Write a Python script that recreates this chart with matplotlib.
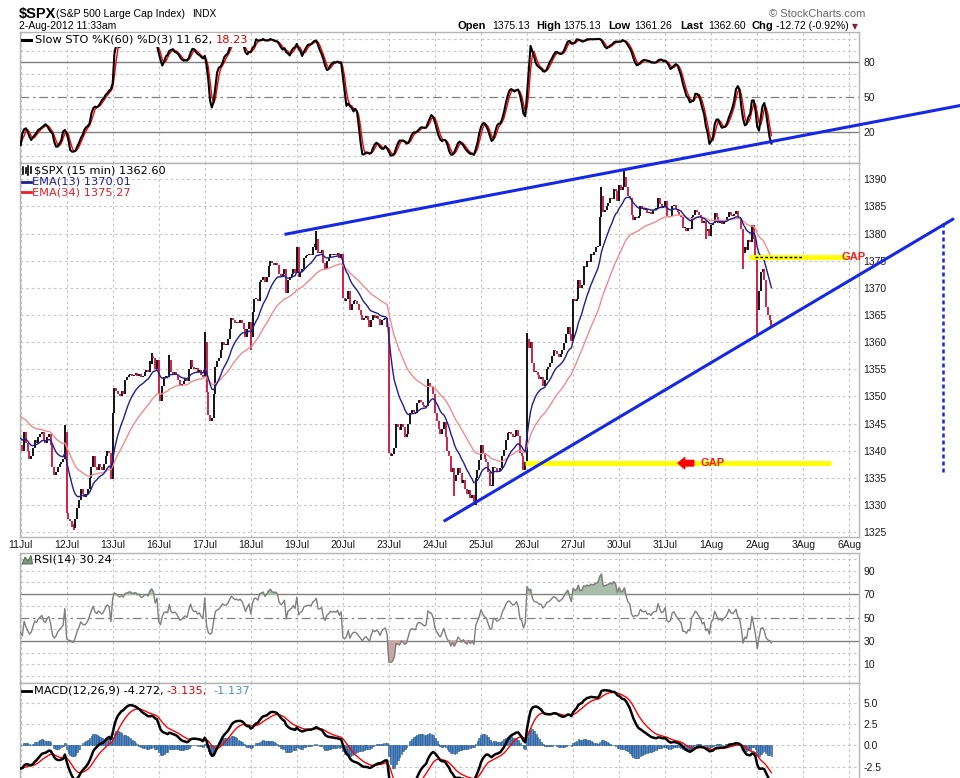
import numpy as np
import matplotlib
matplotlib.use("Agg")
import matplotlib.pyplot as plt
from matplotlib.lines import Line2D
from matplotlib.patches import Polygon

W, H, DPI = 960, 778, 100
L, R = 20, 859  # plot area left/right edge (pixels)

day_labels = ['11Jul', '12Jul', '13Jul', '16Jul', '17Jul', '18Jul', '19Jul', '20Jul', '23Jul',
              '24Jul', '25Jul', '26Jul', '27Jul', '30Jul', '31Jul', '1Aug', '2Aug', '3Aug', '6Aug']

# 15 min closes, one list per session (26 bars per day)
jul11 = [1341.0, 1340.0, 1343.5, 1341.5, 1340.0, 1338.5, 1339.0, 1340.5, 1342.0, 1341.5, 1342.5, 1343.0, 1343.5,
         1342.0, 1341.5, 1342.5, 1343.0, 1341.0, 1337.0, 1335.5, 1336.0, 1337.0, 1337.5, 1338.0, 1338.5, 1343.5]
jul12 = [1328.5, 1327.5, 1327.0, 1326.0, 1325.8, 1327.5, 1329.5, 1331.0, 1333.0, 1332.0, 1331.5, 1332.0, 1333.0,
         1335.0, 1337.0, 1339.0, 1337.0, 1336.5, 1337.5, 1337.0, 1336.5, 1337.5, 1339.0, 1340.0, 1339.5, 1334.8]
jul13 = [1347.0, 1351.5, 1351.0, 1350.5, 1350.0, 1351.0, 1350.5, 1353.0, 1353.5, 1354.0, 1354.2, 1353.8, 1354.0,
         1354.3, 1353.8, 1354.2, 1353.5, 1353.8, 1354.5, 1354.8, 1354.5, 1356.5, 1357.5, 1357.0, 1355.0, 1356.8]
jul16 = [1350.5, 1349.2, 1352.0, 1353.5, 1353.8, 1353.5, 1356.8, 1354.5, 1354.2, 1354.5, 1354.0, 1353.0, 1352.0,
         1352.3, 1352.8, 1353.2, 1352.8, 1355.0, 1356.8, 1355.5, 1355.0, 1355.2, 1354.5, 1354.8, 1354.0, 1353.6]
jul17 = [1360.0, 1350.8, 1346.5, 1345.5, 1346.0, 1350.5, 1355.5, 1356.5, 1357.0, 1358.5, 1360.0, 1359.5, 1359.5,
         1360.5, 1362.5, 1364.5, 1364.0, 1363.5, 1363.8, 1363.5, 1364.0, 1363.5, 1362.5, 1361.0, 1362.5, 1363.7]
jul18 = [1361.0, 1365.5, 1368.0, 1368.0, 1367.5, 1371.0, 1371.5, 1372.0, 1371.0, 1372.0, 1374.0, 1375.0, 1374.5,
         1374.3, 1374.5, 1374.2, 1372.5, 1372.0, 1372.5, 1373.5, 1369.0, 1371.5, 1372.0, 1372.5, 1373.5, 1372.8]
jul19 = [1377.5, 1372.0, 1373.0, 1373.5, 1375.5, 1375.8, 1376.0, 1376.2, 1376.0, 1377.5, 1378.0, 1379.0, 1376.5,
         1376.5, 1377.0, 1374.5, 1373.5, 1375.0, 1375.5, 1376.2, 1376.0, 1376.2, 1376.0, 1376.5, 1375.5, 1376.3]
jul20 = [1368.2, 1367.5, 1368.0, 1369.5, 1366.0, 1367.0, 1367.5, 1367.5, 1367.0, 1366.0, 1365.0, 1364.0, 1364.5,
         1364.8, 1364.0, 1362.8, 1364.0, 1365.0, 1364.5, 1364.8, 1364.3, 1363.2, 1364.0, 1364.3, 1364.5, 1362.7]
jul23 = [1339.5, 1339.0, 1339.3, 1340.5, 1345.0, 1344.3, 1343.8, 1345.0, 1344.3, 1342.5, 1343.0, 1345.0, 1347.0,
         1347.5, 1347.2, 1347.0, 1348.8, 1349.3, 1349.0, 1348.5, 1348.0, 1348.3, 1352.5, 1352.0, 1351.8, 1350.5]
jul24 = [1347.0, 1345.5, 1344.0, 1343.0, 1344.0, 1345.2, 1342.5, 1340.0, 1339.0, 1336.0, 1336.8, 1334.5, 1335.5,
         1336.8, 1335.8, 1334.0, 1334.6, 1333.0, 1332.0, 1332.8, 1331.2, 1331.8, 1330.0, 1335.0, 1336.5, 1338.3]
jul25 = [1341.0, 1339.5, 1338.5, 1338.0, 1336.0, 1333.5, 1333.5, 1337.0, 1336.8, 1336.0, 1336.3, 1336.8, 1339.0,
         1340.2, 1342.0, 1343.2, 1343.5, 1343.0, 1342.5, 1342.8, 1343.8, 1342.8, 1339.5, 1339.0, 1336.5, 1338.0]
jul26 = [1360.5, 1359.0, 1360.0, 1356.2, 1354.5, 1354.5, 1354.0, 1353.3, 1353.5, 1352.0, 1353.0, 1355.0, 1355.5,
         1356.2, 1357.4, 1358.5, 1358.3, 1357.8, 1357.2, 1357.8, 1358.5, 1359.8, 1361.5, 1362.8, 1361.5, 1360.2]
jul27 = [1368.0, 1367.5, 1368.0, 1371.5, 1370.0, 1370.5, 1374.0, 1373.8, 1375.0, 1374.8, 1376.2, 1376.0, 1376.6,
         1377.5, 1377.8, 1383.0, 1387.0, 1384.0, 1384.3, 1385.0, 1385.6, 1386.5, 1386.3, 1388.3, 1387.8, 1386.0]
jul30 = [1389.0, 1388.0, 1388.5, 1390.5, 1388.5, 1387.0, 1386.5, 1383.5, 1382.5, 1383.0, 1382.8, 1383.3, 1385.0,
         1384.5, 1384.3, 1384.6, 1383.8, 1384.0, 1383.6, 1384.3, 1384.5, 1384.6, 1386.5, 1385.5, 1384.8, 1385.1]
jul31 = [1386.0, 1383.3, 1383.0, 1383.3, 1385.0, 1385.2, 1384.5, 1384.0, 1383.5, 1383.0, 1381.0, 1381.0, 1380.5,
         1381.0, 1380.8, 1383.0, 1383.5, 1384.3, 1384.0, 1383.5, 1383.0, 1382.0, 1382.3, 1380.5, 1380.8, 1379.5]
aug01 = [1381.5, 1382.0, 1383.8, 1383.0, 1382.0, 1382.3, 1381.8, 1382.2, 1382.5, 1383.0, 1384.0, 1383.5, 1383.3,
         1383.6, 1384.1, 1383.0, 1382.6, 1380.8, 1376.5, 1377.5, 1377.0, 1378.9, 1378.5, 1381.5, 1379.0, 1375.2]
aug02 = [1366.0, 1369.5, 1373.0, 1373.5, 1371.5, 1366.5, 1365.0, 1364.0, 1362.6]

sessions = [jul11, jul12, jul13, jul16, jul17, jul18, jul19, jul20, jul23,
            jul24, jul25, jul26, jul27, jul30, jul31, aug01, aug02]

# bars with long wicks: (session, bar, low, high)
spikes = [(0, 25, 1338.5, 1344.8), (1, 4, 1325.4, 1326.5), (2, 22, 1356.0, 1358.0),
          (3, 6, 1354.5, 1357.6), (4, 0, 1353.6, 1361.9), (5, 0, 1358.5, 1363.7),
          (6, 11, 1377.0, 1380.5), (7, 0, 1368.2, 1376.3), (8, 22, 1348.3, 1353.2),
          (9, 11, 1331.7, 1335.0), (11, 0, 1338.0, 1361.7), (12, 16, 1383.0, 1388.6),
          (13, 3, 1388.5, 1391.7), (14, 23, 1379.0, 1382.3), (15, 18, 1373.5, 1380.8),
          (16, 0, 1361.3, 1375.1)]

# slow %K over the first 60 bars (its window reaches back before the chart)
sto_k_start = [9, 19, 22.6, 23.4, 20.6, 16.3, 13.4, 15.7, 17.7, 19.7, 22, 22.9, 24.3, 25.4, 26.9,
               25.4, 22.6, 20.6, 19, 12, 7.7, 7.7, 10.6, 13.4, 20.6, 22, 19, 13.4, 4.9, 3.4,
               3.4, 4.3, 7.7, 11, 14.9, 17.7, 22, 24.3, 25.4, 27.7, 36.3, 40.6, 42, 41.4, 42.6,
               44.9, 47.7, 49.1, 52, 53.4, 55.7, 56.9, 62, 87.7, 94.9, 93.4, 93.4, 94, 94.6, 96.3]

# indicator levels at the left edge of the chart
first_open = 1340.8
ema13_start, ema34_start = 1342.5, 1346.7
ema12_start, ema26_start, signal_start = 1342.4, 1345.2, -2.65
rsi_gain_start, rsi_loss_start = 0.45, 0.80

# hand drawn annotations (day, price)
upper_trend = ([5.765, 20.38], [1379.9, 1403.55])
lower_trend = ([9.218, 20.245], [1327.13, 1382.63])
target_x, target_prices = 20.04, [1381.9, 1335.9]
gap_low_x, gap_low_price = [10.955, 17.6], 1337.7
gap_high_x, gap_high_price = [15.83, 17.95], 1375.7
gap_high_dots = [15.95, 16.99]

quote = [('Open', 458, '1375.13', 492), ('High', 536, '1375.13', 563), ('Low', 608, '1361.26', 634),
         ('Last', 680, '1362.60', 708), ('Chg', 752, '-12.72 (-0.92%)', 776)]

# ---------------------------------------------------------------- data prep
closes = np.concatenate([np.asarray(s, float) for s in sessions])
xs = np.concatenate([d + np.arange(len(s)) / 26.0 for d, s in enumerate(sessions)])
opens = np.r_[first_open, closes[:-1]]
highs = np.maximum(opens, closes)
lows = np.minimum(opens, closes)
starts = np.cumsum([0] + [len(s) for s in sessions])
for d, j, lo, hi in spikes:
    k = starts[d] + j
    lows[k] = min(lows[k], lo)
    highs[k] = max(highs[k], hi)
highs = np.maximum(highs, lows + 0.2)
n = len(closes)


def ema(values, span, start):
    a = 2.0 / (span + 1)
    out, e = [], start
    for v in values:
        e += a * (v - e)
        out.append(e)
    return np.array(out)


ema13 = ema(closes, 13, ema13_start)
ema34 = ema(closes, 34, ema34_start)

fast = np.empty(n)
for i in range(n):
    lo = lows[max(0, i - 59):i + 1].min()
    hi = highs[max(0, i - 59):i + 1].max()
    fast[i] = 100 * (closes[i] - lo) / (hi - lo) if hi > lo else 50
slow_k = np.array([fast[max(0, i - 2):i + 1].mean() for i in range(n)])
slow_k[:len(sto_k_start)] = sto_k_start
sto_d = np.array([slow_k[max(0, i - 2):i + 1].mean() for i in range(n)])

g, l = rsi_gain_start, rsi_loss_start
rsi = []
for ch in closes - opens:
    g = (g * 13 + max(ch, 0)) / 14
    l = (l * 13 + max(-ch, 0)) / 14
    rsi.append(100 - 100 / (1 + g / l))
rsi = np.array(rsi)

macd = ema(closes, 12, ema12_start) - ema(closes, 26, ema26_start)
signal = ema(macd, 9, signal_start)
hist = macd - signal

# ---------------------------------------------------------------- figure
plt.rcParams['font.family'] = ['Liberation Sans', 'DejaVu Sans']
fig = plt.figure(figsize=(W / DPI, H / DPI), dpi=DPI)

GRID = '#c8c8c8'
LEVEL = '#808080'
X0, X1 = (L - 20.6) / 46.04, (R - 20.6) / 46.04


def panel(top, bottom):
    return fig.add_axes([L / W, 1 - bottom / H, (R - L) / W, (bottom - top) / H])


def style(a, ylim, ticks, labels, dashed=(), solid=(), dashdot=()):
    a.set_xlim(X0, X1)
    a.set_ylim(*ylim)
    a.set_yticks(ticks)
    a.set_yticklabels(labels)
    a.yaxis.tick_right()
    a.tick_params(axis='y', length=0, pad=3, labelsize=7.5, labelcolor='#1a1a1a')
    a.set_xticks(range(len(day_labels)))
    a.tick_params(axis='x', length=0, labelbottom=False)
    for s in a.spines.values():
        s.set_color('#b4b4b4')
        s.set_linewidth(1)
    for d in range(len(day_labels)):
        a.axvline(d, color=GRID, lw=0.8, ls=(0, (2.5, 2.5)), zorder=0)
    for v in dashed:
        a.axhline(v, color=GRID, lw=0.8, ls=(0, (2.5, 2.5)), zorder=0)
    for v in solid:
        a.axhline(v, color=LEVEL, lw=1, zorder=1)
    for v in dashdot:
        a.axhline(v, color=LEVEL, lw=0.9, ls=(0, (7, 3, 2, 3)), zorder=1)


ax_sto = panel(32, 163.3)
ax = panel(163.3, 537)
ax_rsi = panel(552.7, 683.3)
ax_macd = panel(683.3, 790)

style(ax_sto, (-6.6, 106), [20, 50, 80], ['20', '50', '80'],
      dashed=[0, 10, 30, 40, 60, 70, 90, 100], solid=[20, 80], dashdot=[50])
style(ax, (1324.1, 1392.95), list(range(1325, 1391, 5)), [str(v) for v in range(1325, 1391, 5)],
      dashed=list(range(1325, 1391, 5)))
style(ax_rsi, (-6.2, 105.4), [10, 30, 50, 70, 90], ['10', '30', '50', '70', '90'],
      dashed=[0, 10, 20, 40, 60, 80, 90, 100], solid=[30, 70], dashdot=[50])
style(ax_macd, (-5.23, 7.27), [-2.5, 0, 2.5, 5.0], ['-2.5', '0.0', '2.5', '5.0'],
      dashed=[-2.5, 0, 2.5, 5.0])

ax.set_xticklabels(day_labels)
ax.tick_params(axis='x', labelbottom=True, pad=2, labelsize=7.5, labelcolor='#1a1a1a')

# stochastics
ax_sto.plot(xs, sto_d, color='#ff0000', lw=1.0, zorder=3)
ax_sto.plot(xs, slow_k, color='black', lw=1.5, zorder=4)

# price bars + EMAs
cols = np.where(closes >= opens, 'black', '#d0103a')
ax.vlines(xs, lows, highs, colors=cols, lw=1.3, zorder=2)
ax.plot(xs, ema34, color='#f28c8c', lw=1.0, zorder=3)
ax.plot(xs, ema13, color='#1e1e96', lw=1.0, zorder=3)

# annotations
ax.plot(gap_low_x, [gap_low_price] * 2, color='#ffff00', lw=3.5, solid_capstyle='butt', zorder=4)
ax.plot(gap_high_x, [gap_high_price] * 2, color='#ffff00', lw=3.5, solid_capstyle='butt',
        zorder=4, clip_on=False)
ax.plot(gap_high_dots, [gap_high_price] * 2, color='black', lw=1, ls=(0, (2, 1.5)), zorder=5)
ax.plot(*upper_trend, color='#1428e6', lw=2.2, zorder=6, clip_on=False)
ax.plot(*lower_trend, color='#1428e6', lw=2.2, zorder=6, clip_on=False)
ax.plot([target_x, target_x], target_prices, color='#1428e6', lw=1.8, ls=(0, (1.6, 1.2)),
        zorder=6, clip_on=False)
ax.annotate('', xy=(14.28, gap_low_price), xytext=(14.62, gap_low_price),
            arrowprops=dict(arrowstyle='simple,head_length=0.6,head_width=1.0,tail_width=0.5',
                            mutation_scale=8, color='#ff0000', shrinkA=0, shrinkB=0), zorder=6)
ax.text(14.76, gap_low_price, 'GAP', color='#ff1a1a', fontweight='bold', fontsize=8,
        va='center', ha='left', zorder=7)
ax.text(17.84, gap_high_price, 'GAP', color='#ff1a1a', fontweight='bold', fontsize=8,
        va='center', ha='left', zorder=7, clip_on=False)

# RSI
ax_rsi.plot(xs, rsi, color='#7f7f7f', lw=1.0, zorder=3)
ax_rsi.fill_between(xs, rsi, 70, where=rsi > 70, interpolate=True, color='#a9bda9', zorder=2)
ax_rsi.fill_between(xs, rsi, 30, where=rsi < 30, interpolate=True, color='#c9a6a6', zorder=2)

# MACD
ax_macd.bar(xs, hist, width=0.9 / 26, color='#4a88c6', edgecolor='#1f508c', linewidth=0.4, zorder=2)
ax_macd.plot(xs, signal, color='#ff0000', lw=1.0, zorder=3)
ax_macd.plot(xs, macd, color='black', lw=1.8, zorder=4)


# ---------------------------------------------------------------- texts
def ftext(x, y, s, **kw):
    kw.setdefault('va', 'center')
    kw.setdefault('parse_math', False)
    return fig.text(x / W, 1 - y / H, s, **kw)


def fline(xp, yp, **kw):
    fig.add_artist(Line2D([x / W for x in xp], [1 - y / H for y in yp], **kw))


LEG = dict(family='DejaVu Sans', fontsize=8.2)
WHITE = dict(fc='white', ec='none', pad=1.2)

ftext(19, 14, '$SPX', fontsize=10.5, fontweight='bold')
ftext(56, 14, '(S&P 500 Large Cap Index)', fontsize=7.6)
ftext(192, 14, 'INDX', fontsize=7.3)
ftext(19, 26, '2-Aug-2012 11:33am', fontsize=7.5)
ftext(769, 14, '\u00a9 StockCharts.com', fontsize=8, color='#666666')
for name, xn, val, xv in quote:
    ftext(xn, 26, name, fontsize=8, fontweight='bold')
    ftext(xv, 26, val, fontsize=7.5)
ftext(852, 27, '\u25bc', fontsize=5.5, color='#8b1a2a', family='DejaVu Sans')

fline([22, 31], [40, 40], color='black', lw=2.2)
ftext(35, 40, 'Slow STO %K(60) %D(3) 11.62,', bbox=WHITE, **LEG)
ftext(216, 40, '18.23', color='#e00000', bbox=WHITE, **LEG)

for xv, y0, y1 in [(23, 167, 174), (25.5, 168, 173), (28, 166, 175), (30.5, 167, 173)]:
    fline([xv, xv], [y0, y1], color='black', lw=1.2)
ftext(34, 170.7, '$SPX (15 min) 1362.60', **LEG)
fline([22, 31], [181.7, 181.7], color='#1e1e96', lw=2)
ftext(32, 181.7, 'EMA(13) 1370.01', color='#1e1e96', **LEG)
fline([22, 31], [192.3, 192.3], color='#e8202a', lw=2)
ftext(32, 192.3, 'EMA(34) 1375.27', color='#e8202a', **LEG)

icon = [(22, 564), (25, 557), (28, 561), (31, 555.5), (32.5, 564)]
fig.add_artist(Polygon([(x / W, 1 - y / H) for x, y in icon], closed=True,
                       fc='#7f9a80', ec='#4a5a4a', lw=0.6))
ftext(34, 559.7, 'RSI(14) 30.24', **LEG)

fline([22, 31], [690.7, 690.7], color='black', lw=2)
ftext(34, 690.7, 'MACD(12,26,9) -4.272,', **LEG)
ftext(166, 690.7, '-3.135,', color='#e00000', **LEG)
ftext(213, 690.7, '-1.137', color='#4a8fd6', **LEG)

fig.savefig('out.png', dpi=DPI)
